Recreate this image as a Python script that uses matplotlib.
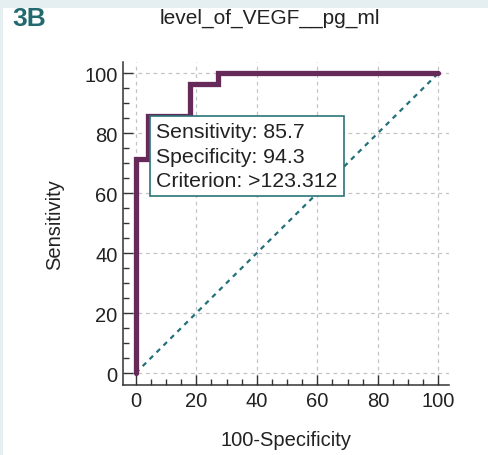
import numpy as np
import matplotlib.pyplot as plt
from matplotlib.patches import Rectangle
from matplotlib.ticker import MultipleLocator

plt.rcParams['font.family'] = ['Liberation Sans', 'DejaVu Sans']

# ROC curve points (100-specificity, sensitivity)
fpr = [0, 0, 4, 4, 18, 18, 27.3, 27.3, 100]
tpr = [0, 71.4, 71.4, 85.7, 85.7, 96.4, 96.4, 100, 100]
diag_x = [0, 100]
diag_y = [0, 100]
stats_text = "Sensitivity: 85.7\nSpecificity: 94.3\nCriterion: >123.312"

W, H = 489, 456
fig = plt.figure(figsize=(W / 100, H / 100), dpi=100)
fig.patch.set_facecolor('#e5eef1')
fig.patches.append(Rectangle((3 / W, 0), 1, 1 - 9 / H, transform=fig.transFigure,
                             facecolor='white', edgecolor='none', zorder=-10))

ax = fig.add_axes([123 / W, 1 - 386 / H, (449 - 123) / W, (386 - 63) / H])
ax.set_facecolor('none')

ax.plot(diag_x, diag_y, color='#23707a', lw=1.6, ls=(0, (2.2, 2.2)), zorder=2)
ax.plot(fpr, tpr, color='#662a5a', lw=3.8, solid_capstyle='round',
        solid_joinstyle='miter', zorder=3)

ax.set_xlim(-4.2, 103.5)
ax.set_ylim(-4, 103.7)
ax.xaxis.set_major_locator(MultipleLocator(20))
ax.yaxis.set_major_locator(MultipleLocator(20))
ax.xaxis.set_minor_locator(MultipleLocator(5))
ax.yaxis.set_minor_locator(MultipleLocator(5))
ax.grid(True, which='major', color='#c4c4c4', ls=(0, (3, 3)), lw=0.9)
ax.set_axisbelow(True)

for s in ['top', 'right']:
    ax.spines[s].set_visible(False)
for s in ['left', 'bottom']:
    ax.spines[s].set_color('#333333')
    ax.spines[s].set_linewidth(1.1)

ax.tick_params(which='major', direction='in', length=7, width=1, color='#333333',
               labelsize=14.5, labelcolor='#222222', pad=4)
ax.tick_params(which='minor', direction='in', length=4.3, width=1, color='#333333')

ax.set_xlabel('100-Specificity', fontsize=14.5, color='#222222', labelpad=15)
ax.set_ylabel('Sensitivity', fontsize=14.5, color='#222222', labelpad=14)

ax.text(6.8, 83.6, stats_text, fontsize=15.3, color='#222222', va='top', ha='left',
        linespacing=1.36, zorder=5,
        bbox=dict(boxstyle='square,pad=0.3', facecolor='white', edgecolor='#2a7478', lw=1.2))

fig.text(270 / W, 1 - 18 / H, 'level_of_VEGF__pg_ml', fontsize=15, color='#222222',
         ha='center', va='center')
fig.text(12 / W, 1 - 19 / H, '3B', fontsize=19, fontweight='bold', color='#236a70',
         ha='left', va='center')

fig.savefig('out.png', dpi=100)
